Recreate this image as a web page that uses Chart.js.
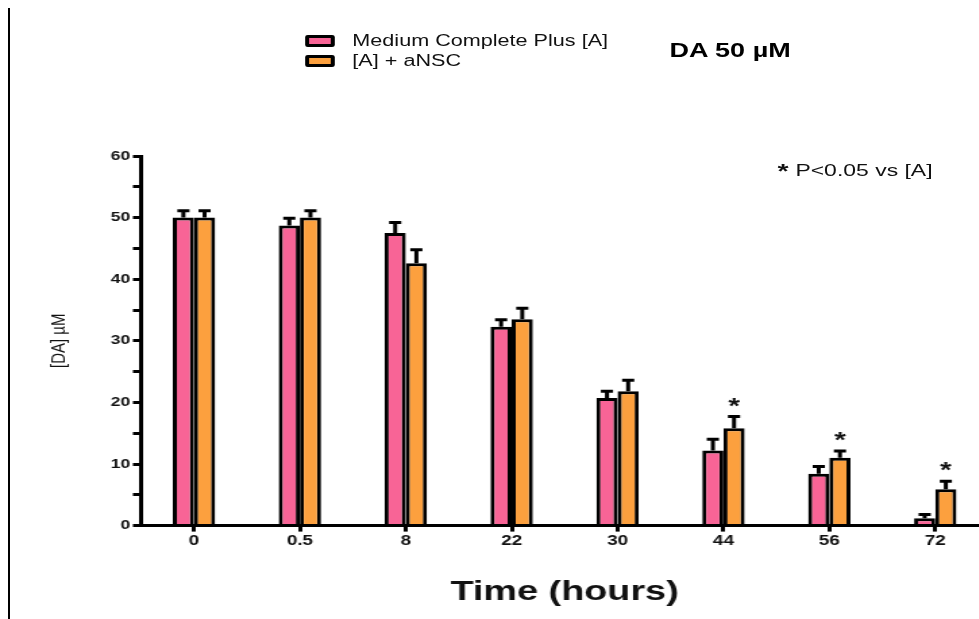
<!DOCTYPE html>
<html>
<head>
<meta charset="utf-8">
<script src="https://cdn.jsdelivr.net/npm/chart.js@4"></script>
<style>
  html, body { margin: 0; padding: 0; background: #fff; overflow: hidden; }
  body { width: 979px; height: 619px; position: relative; font-family: "Liberation Sans", Arial, sans-serif; }
  #frame { position: absolute; left: 8px; top: 8px; width: 0; height: 611px; border-left: 2px solid #000; }
  /* the reference is stretched sideways, so draw narrow and scale the whole panel */
  #wrap { position: absolute; left: 0; top: 0; width: 760px; height: 619px; transform: scaleX(1.35); transform-origin: 0 0; }
  #chart-box { position: absolute; left: 0; top: 0; width: 760px; height: 619px; }
  .legend { position: absolute; left: 226px; top: 31px; font-size: 16px; color: #111; }
  .legend div { height: 20px; line-height: 20px; white-space: nowrap; }
  .legend span.box { display: inline-block; width: 16px; height: 6px; border: 3px solid #000; border-radius: 2px; vertical-align: middle; margin-right: 13px; position: relative; top: -1px; }
  .title { position: absolute; left: 496px; top: 39px; font-size: 20px; font-weight: bold; color: #000; }
  .note { position: absolute; left: 576px; top: 157px; font-size: 17px; color: #111; white-space: nowrap; }
  .note b { font-size: 21px; position: relative; top: 2px; margin-right: 5px; }
</style>
</head>
<body>
<div id="frame"></div>
<div id="wrap">
  <div id="chart-box"><canvas id="chart"></canvas></div>
  <div class="legend">
    <div><span class="box" style="background:#f86496"></span>Medium Complete Plus [A]</div>
    <div><span class="box" style="background:#fca03e"></span>[A] + aNSC</div>
  </div>
  <div class="title">DA 50 µM</div>
  <div class="note"><b>*</b>P&lt;0.05 vs [A]</div>
</div>
<script>
const timeLabels = ["0", "0.5", "8", "22", "30", "44", "56", "72"];
const mediumValues = [50, 48.7, 47.5, 32.3, 20.7, 12.2, 8.4, 1.2];
const mediumErrors = [1.1, 1.2, 1.7, 1.1, 1.1, 1.8, 1.2, 0.6];
const nscValues = [50, 50, 42.6, 33.5, 21.8, 15.8, 11.0, 5.9];
const nscErrors = [1.1, 1.1, 2.2, 1.8, 1.8, 1.9, 1.1, 1.3];
const nscSignificant = [false, false, false, false, false, true, true, true];
const yTicks = [0, 10, 20, 30, 40, 50, 60];

// error bars (upper only, with cap) + significance stars
const errorBars = {
  id: "errorBars",
  afterDatasetsDraw(chart) {
    const { ctx, scales: { y } } = chart;
    const sets = [mediumErrors, nscErrors];
    ctx.save();
    ctx.strokeStyle = "#000";
    ctx.lineWidth = 3;
    sets.forEach((errs, di) => {
      const vals = chart.data.datasets[di].data;
      chart.getDatasetMeta(di).data.forEach((bar, i) => {
        const top = y.getPixelForValue(vals[i] + errs[i]);
        ctx.beginPath();
        ctx.moveTo(bar.x, bar.y);
        ctx.lineTo(bar.x, top);
        ctx.moveTo(bar.x - 4.5, top);
        ctx.lineTo(bar.x + 4.5, top);
        ctx.stroke();
        if (di === 1 && nscSignificant[i]) {
          ctx.fillStyle = "#111";
          ctx.font = "bold 22px 'Liberation Sans', Arial";
          ctx.textAlign = "center";
          ctx.fillText("*", bar.x, top - 4);
        }
      });
    });
    ctx.restore();
  },
};

const font = (size, weight) => ({ size, weight, family: "'Liberation Sans', Arial" });

new Chart(document.getElementById("chart"), {
  type: "bar",
  data: {
    labels: timeLabels,
    datasets: [
      { label: "Medium Complete Plus [A]", data: mediumValues, backgroundColor: "#f86496", borderColor: "#000", borderWidth: 3 },
      { label: "[A] + aNSC", data: nscValues, backgroundColor: "#fca03e", borderColor: "#000", borderWidth: 3 },
    ],
  },
  options: {
    responsive: true,
    maintainAspectRatio: false,
    animation: false,
    categoryPercentage: 0.4,
    barPercentage: 1.0,
    layout: { padding: { top: 156, left: 35, right: 28, bottom: 10 } },
    plugins: { legend: { display: false }, tooltip: { enabled: false } },
    scales: {
      x: {
        grid: { drawOnChartArea: false, offset: false, color: "#000", lineWidth: 3, tickLength: 6 },
        border: { color: "#000", width: 3 },
        ticks: { color: "#111", font: font(14, "bold"), padding: 1 },
        title: { display: true, text: "Time (hours)", color: "#111", font: font(28, "bold"), padding: { top: 25, bottom: 0 } },
      },
      y: {
        min: 0,
        max: 60,
        afterBuildTicks(axis) {
          const t = [];
          for (let v = 0; v <= 60; v += 5) t.push({ value: v });
          axis.ticks = t;
        },
        grid: { drawOnChartArea: false, color: "#000", lineWidth: 3, tickLength: 6 },
        border: { color: "#000", width: 3 },
        ticks: {
          color: "#111",
          padding: 2,
          font: font(13, "bold"),
          callback: (v) => (yTicks.includes(v) ? String(v) : ""),
        },
        title: { display: true, text: "[DA] µM", color: "#111", font: font(15), padding: { top: 0, bottom: 27 } },
      },
    },
  },
  plugins: [errorBars],
});
</script>
</body>
</html>
